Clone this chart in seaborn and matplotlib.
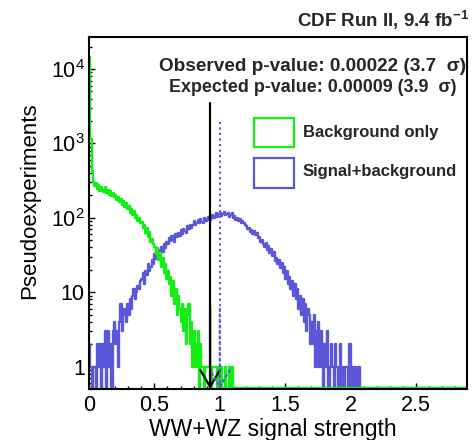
import numpy as np
import pandas as pd
import matplotlib
matplotlib.use("Agg")
import matplotlib.pyplot as plt
from matplotlib.patches import Rectangle
from matplotlib.ticker import FixedLocator, FixedFormatter, MultipleLocator, LogLocator, NullFormatter
import seaborn as sns

# ---------------- data ----------------
bin_width = 0.01
n_bins = 290

# Background-only pseudoexperiments (counts per 0.01 bin, starting at 0)
bkg_counts = [
    14500, 1150, 420, 300, 265, 290, 248, 275, 232, 260,
    240, 222, 258, 218, 236, 205, 228, 196, 214, 188,
    201, 176, 190, 165, 182, 150, 168, 142, 158, 130,
    146, 118, 131, 108, 122, 99, 110, 91, 98, 84,
    88, 72, 81, 63, 72, 55, 64, 48, 52, 44,
    40, 33, 39, 27, 34, 22, 29, 18, 24, 15,
    19, 13, 16, 9, 14, 7, 11, 5, 9, 6,
    4, 7, 3, 6, 2, 5, 7, 2, 4, 1,
    3, 2, 1, 3, 0, 2, 1, 1, 0, 1,
    1, 1, 1, 0, 1, 1, 1, 1, 0, 1,
    0, 1, 0, 0, 1, 0, 0, 1, 0, 1,
]

# Signal+background pseudoexperiments
sb_counts = [
    2, 1, 0, 1, 1, 0, 2, 1, 2, 0,
    2, 1, 3, 0, 3, 1, 2, 0, 3, 4,
    2, 3, 1, 4, 7, 3, 5, 6, 4, 7,
    5, 8, 6, 9, 11, 8, 10, 12, 11, 14,
    15, 18, 13, 19, 17, 24, 19, 22, 27, 24,
    33, 28, 30, 37, 33, 41, 35, 45, 39, 47,
    44, 53, 49, 57, 51, 48, 60, 55, 63, 57,
    68, 60, 71, 66, 62, 77, 70, 81, 74, 79,
    90, 79, 86, 93, 84, 97, 88, 85, 99, 92,
    96, 104, 93, 101, 110, 98, 106, 115, 103, 111,
    118, 106, 113, 121, 108, 112, 117, 104, 109, 115,
    98, 105, 93, 99, 90, 96, 84, 92, 86, 80,
    77, 70, 74, 65, 69, 61, 66, 58, 62, 53,
    55, 47, 50, 44, 40, 46, 37, 42, 34, 38,
    31, 35, 26, 29, 24, 27, 21, 25, 18, 22,
    15, 19, 13, 16, 11, 14, 9, 13, 8, 11,
    6, 9, 5, 8, 4, 7, 3, 6, 5, 2,
    4, 2, 5, 1, 3, 4, 1, 3, 2, 0,
    2, 1, 3, 0, 1, 2, 1, 0, 2, 1,
    0, 1, 2, 0, 1, 0, 1, 1, 0, 2,
    0, 1, 0, 1, 0, 0, 1, 0,
]

observed_mu = 0.926
expected_mu = 1.0
x_ticks = [0, 0.5, 1, 1.5, 2, 2.5]
x_tick_labels = ["0", "0.5", "1", "1.5", "2", "2.5"]
y_ticks = [1, 10, 100, 1000, 10000]
y_tick_labels = ["1", "10", r"$10^{2}$", r"$10^{3}$", r"$10^{4}$"]
legend_labels = ["Background only", "Signal+background"]
title_text = r"CDF Run II, 9.4 fb$^{\mathbf{-1}}$"
obs_text = "Observed p-value: 0.00022 (3.7  σ)"
exp_text = "Expected p-value: 0.00009 (3.9  σ)"
xlabel = "WW+WZ signal strength"
ylabel = "Pseudoexperiments"

# ---------------- style ----------------
sns.set_theme(style="ticks")
plt.rcParams["font.family"] = ["Liberation Sans", "DejaVu Sans"]
plt.rcParams["mathtext.fontset"] = "custom"
plt.rcParams["mathtext.rm"] = "Liberation Sans"
plt.rcParams["mathtext.bf"] = "Liberation Sans:bold"
plt.rcParams["mathtext.it"] = "Liberation Sans:italic"

GREEN = "#14ee14"
BLUE = "#5b57db"
YMIN, YMAX = 0.5, 2.7e4
FLOOR = 0.52

centers = (np.arange(n_bins) + 0.5) * bin_width


def frame(c):
    a = np.zeros(n_bins)
    a[:len(c)] = c
    return pd.DataFrame({"mu": centers, "count": np.where(a > 0, a, FLOOR)})


fig = plt.figure(figsize=(4.73, 4.40), dpi=100)
ax = fig.add_axes([89 / 473, 51 / 440, 378 / 473, 352 / 440])

hist_kws = dict(x="mu", weights="count", binwidth=bin_width,
                binrange=(0, n_bins * bin_width), element="step", fill=False,
                linewidth=1.7, ax=ax)
sns.histplot(data=frame(sb_counts), color=BLUE, **hist_kws)
sns.histplot(data=frame(bkg_counts), color=GREEN, **hist_kws)

ax.set_yscale("log")
ax.set_xlim(0, 2.89)
ax.set_ylim(YMIN, YMAX)

# observed / expected markers
ax.plot([observed_mu, observed_mu], [YMIN, 3500], color="black", lw=1.6)
ax.annotate("", xy=(observed_mu, YMIN), xytext=(observed_mu, 6),
            arrowprops=dict(arrowstyle="->,head_length=1.2,head_width=0.7",
                            color="black", lw=1.6, mutation_scale=10,
                            shrinkA=0, shrinkB=0))
ax.plot([expected_mu, expected_mu], [YMIN, 2000], color=BLUE, lw=1.5, ls=":")
ax.annotate("", xy=(expected_mu, YMIN), xytext=(expected_mu, 6),
            arrowprops=dict(arrowstyle="->,head_length=1.2,head_width=0.7",
                            color=BLUE, lw=1.5, ls=":", mutation_scale=10,
                            shrinkA=0, shrinkB=0))

# axes styling
for s in ax.spines.values():
    s.set_linewidth(1.5)
    s.set_color("black")
ax.xaxis.set_major_locator(FixedLocator(x_ticks))
ax.xaxis.set_major_formatter(FixedFormatter(x_tick_labels))
ax.xaxis.set_minor_locator(MultipleLocator(0.1))
ax.yaxis.set_major_locator(FixedLocator(y_ticks))
ax.yaxis.set_major_formatter(FixedFormatter(y_tick_labels))
ax.yaxis.set_minor_locator(LogLocator(base=10, subs=np.arange(2, 10)))
ax.yaxis.set_minor_formatter(NullFormatter())
ax.tick_params(axis="both", which="major", direction="in", length=4.5, width=1,
               labelsize=15.5, color="black", labelcolor="black")
ax.tick_params(axis="both", which="minor", direction="in", length=2.3, width=1,
               color="black")
ax.tick_params(axis="x", which="major", pad=4.5)
ax.tick_params(axis="y", which="major", pad=3)

ax.set_xlabel(xlabel, fontsize=16.5, color="black")
ax.xaxis.set_label_coords(0.487, -0.114)
ax.xaxis.label.set_va("center")
ax.set_ylabel(ylabel, fontsize=16, color="black")
ax.yaxis.set_label_coords(-0.156, 0.534)
ax.yaxis.label.set_va("center")

# legend (manual boxes + labels)
ax.add_patch(Rectangle((0.4365, 0.6875), 0.1058, 0.0824, transform=ax.transAxes,
                       facecolor="white", edgecolor=GREEN, lw=1.6))
ax.add_patch(Rectangle((0.4365, 0.571), 0.1058, 0.085, transform=ax.transAxes,
                       facecolor="white", edgecolor=BLUE, lw=1.6))
ax.text(0.566, 0.730, legend_labels[0], transform=ax.transAxes, fontsize=12,
        fontweight="bold", va="center", ha="left")
ax.text(0.566, 0.6165, legend_labels[1], transform=ax.transAxes, fontsize=12,
        fontweight="bold", va="center", ha="left")

ax.text(0.997, 0.915, obs_text, transform=ax.transAxes, fontsize=13.7,
        fontweight="bold", va="center", ha="right")
ax.text(0.972, 0.8565, exp_text, transform=ax.transAxes, fontsize=12.9,
        fontweight="bold", va="center", ha="right")
fig.text(469 / 473, 1 - 20 / 440, title_text, fontsize=13.5, fontweight="bold",
         va="center", ha="right")

fig.savefig("out.png", dpi=100, facecolor="white")
